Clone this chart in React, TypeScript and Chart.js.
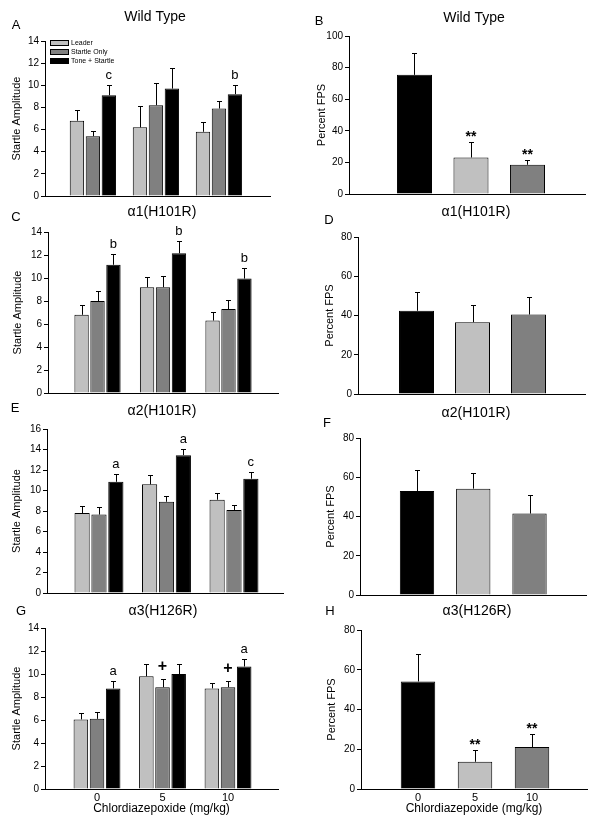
import React, { useEffect, useRef } from 'react';
import { Chart, registerables } from 'chart.js';

Chart.register(...registerables);

const FONT = '"Liberation Sans", Arial, Helvetica, sans-serif';
const LIGHT = '#c0c0c0';
const MID = '#808080';
const DARK = '#000000';

// categories
const doses = ['0', '5', '10'];
const groupNames = ['Leader', 'Startle Only', 'Tone + Startle'];

// Panel A — Wild Type startle amplitude (mean, SEM)
const wtLeader = [6.8, 6.2, 5.8];
const wtLeaderSem = [1.0, 1.9, 0.9];
const wtStartle = [5.4, 8.2, 7.9];
const wtStartleSem = [0.5, 2.0, 0.7];
const wtTone = [9.1, 9.7, 9.2];
const wtToneSem = [0.9, 1.9, 0.8];
// Panel B — Wild Type percent FPS
const wtFps = [75.4, 23.1, 18.5];
const wtFpsSem = [13.9, 10.1, 3.3];

// Panel C — α1(H101R)
const a1Leader = [6.8, 9.2, 6.3];
const a1LeaderSem = [0.85, 0.9, 0.75];
const a1Startle = [8.0, 9.2, 7.3];
const a1StartleSem = [0.9, 1.0, 0.8];
const a1Tone = [11.15, 12.15, 9.95];
const a1ToneSem = [0.95, 1.05, 0.95];
// Panel D
const a1Fps = [42.4, 36.6, 40.5];
const a1FpsSem = [9.6, 8.8, 8.7];

// Panel E — α2(H101R)
const a2Leader = [7.8, 10.6, 9.1];
const a2LeaderSem = [0.7, 0.9, 0.65];
const a2Startle = [7.65, 8.9, 8.1];
const a2StartleSem = [0.7, 0.6, 0.5];
const a2Tone = [10.85, 13.45, 11.15];
const a2ToneSem = [0.75, 0.6, 0.7];
// Panel F
const a2Fps = [53.0, 54.2, 41.5];
const a2FpsSem = [10.9, 8.2, 9.3];

// Panel G — α3(H126R)
const a3Leader = [6.05, 9.8, 8.75];
const a3LeaderSem = [0.55, 1.05, 0.5];
const a3Startle = [6.1, 8.85, 8.85];
const a3StartleSem = [0.6, 0.7, 0.5];
const a3Tone = [8.75, 10.0, 10.65];
const a3ToneSem = [0.6, 0.85, 0.65];
// Panel H
const a3Fps = [54.1, 13.7, 21.1];
const a3FpsSem = [13.7, 6.0, 6.7];

// significance marks: [dataset index, category index, text]
const marksA: [number, number, string][] = [[2, 0, 'c'], [2, 2, 'b']];
const marksB: [number, number, string][] = [[0, 1, '**'], [0, 2, '**']];
const marksC: [number, number, string][] = [[2, 0, 'b'], [2, 1, 'b'], [2, 2, 'b']];
const marksD: [number, number, string][] = [];
const marksE: [number, number, string][] = [[2, 0, 'a'], [2, 1, 'a'], [2, 2, 'c']];
const marksF: [number, number, string][] = [];
const marksG: [number, number, string][] = [[2, 0, 'a'], [1, 1, '+'], [1, 2, '+'], [2, 2, 'a']];
const marksH: [number, number, string][] = [[0, 1, '**'], [0, 2, '**']];

type DS = { label: string; values: number[]; sem: number[]; color: string | string[] };
type Panel = {
  key: string; left: number; top: number; width: number; height: number;
  padTop: number; padRight: number; padBottom: number; yWidth: number; xHeight: number;
  yMax: number; yStep: number; yTitle: string; yTitleSize: number; yTitlePad: number;
  xMin: number; xMax: number; showX: boolean; catPct: number; barPct: number;
  datasets: DS[]; marks: [number, number, string][];
  title: string; titleX: number; titleY: number; letter: string; letterX: number; letterY: number;
  legend: boolean;
};

const groupSets = (l: number[], ls: number[], s: number[], ss: number[], t: number[], ts: number[]): DS[] => [
  { label: groupNames[0], values: l, sem: ls, color: LIGHT },
  { label: groupNames[1], values: s, sem: ss, color: MID },
  { label: groupNames[2], values: t, sem: ts, color: DARK },
];
const fpsSet = (v: number[], s: number[]): DS[] => [
  { label: 'Percent FPS', values: v, sem: s, color: [DARK, LIGHT, MID] },
];

const panels: Panel[] = [
  {
    key: 'A', left: 0, top: 0, width: 300, height: 200, padTop: 41, padRight: 30, padBottom: 4, yWidth: 45, xHeight: 0,
    yMax: 14, yStep: 2, yTitle: 'Startle Amplitude', yTitleSize: 11, yTitlePad: 10.4, xMin: -0.76, xMax: 2.81, showX: false,
    catPct: 0.76, barPct: 0.9, datasets: groupSets(wtLeader, wtLeaderSem, wtStartle, wtStartleSem, wtTone, wtToneSem),
    marks: marksA, title: 'Wild Type', titleX: 155, titleY: 17, letter: 'A', letterX: 16, letterY: 25, legend: true,
  },
  {
    key: 'B', left: 300, top: 0, width: 301, height: 200, padTop: 36, padRight: 16, padBottom: 6, yWidth: 49, xHeight: 0,
    yMax: 100, yStep: 20, yTitle: 'Percent FPS', yTitleSize: 11, yTitlePad: 15.4, xMin: -1.159, xMax: 3.018, showX: false,
    catPct: 1, barPct: 0.62, datasets: fpsSet(wtFps, wtFpsSem),
    marks: marksB, title: 'Wild Type', titleX: 474, titleY: 18, letter: 'B', letterX: 319, letterY: 21, legend: false,
  },
  {
    key: 'C', left: 0, top: 200, width: 300, height: 200, padTop: 32, padRight: 22, padBottom: 7, yWidth: 48, xHeight: 0,
    yMax: 14, yStep: 2, yTitle: 'Startle Amplitude', yTitleSize: 11, yTitlePad: 11.4, xMin: -0.756, xMax: 2.756, showX: false,
    catPct: 0.73, barPct: 0.9, datasets: groupSets(a1Leader, a1LeaderSem, a1Startle, a1StartleSem, a1Tone, a1ToneSem),
    marks: marksC, title: 'α1(H101R)', titleX: 162, titleY: 212, letter: 'C', letterX: 16, letterY: 217, legend: false,
  },
  {
    key: 'D', left: 300, top: 200, width: 301, height: 200, padTop: 37, padRight: 16, padBottom: 6, yWidth: 58, xHeight: 0,
    yMax: 80, yStep: 20, yTitle: 'Percent FPS', yTitleSize: 11, yTitlePad: 23.4, xMin: -1.045, xMax: 3.009, showX: false,
    catPct: 1, barPct: 0.625, datasets: fpsSet(a1Fps, a1FpsSem),
    marks: marksD, title: 'α1(H101R)', titleX: 476, titleY: 212, letter: 'D', letterX: 329, letterY: 220, legend: false,
  },
  {
    key: 'E', left: 0, top: 400, width: 300, height: 200, padTop: 29, padRight: 17, padBottom: 7, yWidth: 47, xHeight: 0,
    yMax: 16, yStep: 2, yTitle: 'Startle Amplitude', yTitleSize: 11, yTitlePad: 10.4, xMin: -0.77, xMax: 2.726, showX: false,
    catPct: 0.75, barPct: 0.9, datasets: groupSets(a2Leader, a2LeaderSem, a2Startle, a2StartleSem, a2Tone, a2ToneSem),
    marks: marksE, title: 'α2(H101R)', titleX: 162, titleY: 411, letter: 'E', letterX: 15, letterY: 408, legend: false,
  },
  {
    key: 'F', left: 300, top: 400, width: 301, height: 200, padTop: 38, padRight: 15, padBottom: 5, yWidth: 60, xHeight: 0,
    yMax: 80, yStep: 20, yTitle: 'Percent FPS', yTitleSize: 11, yTitlePad: 24.4, xMin: -1.013, xMax: 3.004, showX: false,
    catPct: 1, barPct: 0.61, datasets: fpsSet(a2Fps, a2FpsSem),
    marks: marksF, title: 'α2(H101R)', titleX: 476, titleY: 413, letter: 'F', letterX: 327, letterY: 423, legend: false,
  },
  {
    key: 'G', left: 0, top: 600, width: 300, height: 228, padTop: 28, padRight: 22, padBottom: 3, yWidth: 45, xHeight: 36,
    yMax: 14, yStep: 2, yTitle: 'Startle Amplitude', yTitleSize: 11, yTitlePad: 10.4, xMin: -0.794, xMax: 2.763, showX: true,
    catPct: 0.74, barPct: 0.9, datasets: groupSets(a3Leader, a3LeaderSem, a3Startle, a3StartleSem, a3Tone, a3ToneSem),
    marks: marksG, title: 'α3(H126R)', titleX: 163, titleY: 611, letter: 'G', letterX: 21, letterY: 611, legend: false,
  },
  {
    key: 'H', left: 300, top: 600, width: 301, height: 228, padTop: 30, padRight: 14, padBottom: 3, yWidth: 61, xHeight: 36,
    yMax: 80, yStep: 20, yTitle: 'Percent FPS', yTitleSize: 11, yTitlePad: 25.4, xMin: -1.0, xMax: 2.965, showX: true,
    catPct: 1, barPct: 0.605, datasets: fpsSet(a3Fps, a3FpsSem),
    marks: marksH, title: 'α3(H126R)', titleX: 477, titleY: 611, letter: 'H', letterX: 330, letterY: 611, legend: false,
  },
];

function makeOverlay(p: Panel) {
  return {
    id: 'overlay' + p.key,
    afterDatasetsDraw(chart: any) {
      const ctx = chart.ctx as CanvasRenderingContext2D;
      const y = chart.scales.y;
      ctx.save();
      ctx.strokeStyle = '#000';
      ctx.lineWidth = 1;
      p.datasets.forEach((ds, di) => {
        const meta = chart.getDatasetMeta(di);
        ds.values.forEach((v, i) => {
          const bar = meta.data[i];
          const x = Math.round(bar.x) + 0.5;
          const top = y.getPixelForValue(v);
          const cap = Math.round(y.getPixelForValue(v + ds.sem[i])) + 0.5;
          ctx.beginPath();
          ctx.moveTo(x, top);
          ctx.lineTo(x, cap);
          ctx.moveTo(x - 2.5, cap);
          ctx.lineTo(x + 2.5, cap);
          ctx.stroke();
        });
      });
      ctx.fillStyle = '#000';
      ctx.textAlign = 'center';
      ctx.textBaseline = 'alphabetic';
      p.marks.forEach(([di, i, text]) => {
        const ds = p.datasets[di];
        const bar = chart.getDatasetMeta(di).data[i];
        const cap = y.getPixelForValue(ds.values[i] + ds.sem[i]);
        if (text === '**') {
          ctx.font = `bold 14px ${FONT}`;
          ctx.fillText(text, bar.x, cap - 1);
        } else if (text === '+') {
          ctx.font = `bold 16px ${FONT}`;
          ctx.fillText(text, bar.x, cap - 8);
        } else {
          ctx.font = `13px ${FONT}`;
          ctx.fillText(text, bar.x, cap - 6);
        }
      });
      ctx.restore();
    },
    afterDraw(chart: any) {
      const ctx = chart.ctx as CanvasRenderingContext2D;
      ctx.save();
      ctx.fillStyle = '#000';
      ctx.textBaseline = 'middle';
      ctx.textAlign = 'center';
      ctx.font = `14px ${FONT}`;
      ctx.fillText(p.title, p.titleX - p.left, p.titleY - p.top);
      ctx.font = `13px ${FONT}`;
      ctx.fillText(p.letter, p.letterX - p.left, p.letterY - p.top);
      if (p.legend) {
        const area = chart.chartArea;
        ctx.font = `7px ${FONT}`;
        ctx.textAlign = 'left';
        ctx.strokeStyle = '#000';
        ctx.lineWidth = 1;
        p.datasets.forEach((ds, i) => {
          const bx = Math.round(area.left) + 5;
          const by = Math.round(area.top) - 1 + i * 9;
          ctx.fillStyle = ds.color as string;
          ctx.fillRect(bx, by, 18, 5);
          ctx.strokeRect(bx + 0.5, by + 0.5, 18, 5);
          ctx.fillStyle = '#000';
          ctx.fillText(ds.label, bx + 21, by + 3);
        });
      }
      ctx.restore();
    },
  };
}

function PanelChart({ p }: { p: Panel }) {
  const ref = useRef<HTMLCanvasElement>(null);
  useEffect(() => {
    const chart = new Chart(ref.current as HTMLCanvasElement, {
      type: 'bar',
      data: {
        datasets: p.datasets.map((ds) => ({
          label: ds.label,
          data: ds.values.map((v, i) => ({ x: i, y: v })),
          backgroundColor: ds.color as any,
          borderColor: '#000',
          borderWidth: 1,
          categoryPercentage: p.catPct,
          barPercentage: p.barPct,
        })),
      },
      options: {
        responsive: false,
        animation: false,
        devicePixelRatio: 1,
        events: [],
        layout: { padding: { top: p.padTop, right: p.padRight, bottom: p.padBottom, left: 0 } },
        plugins: { legend: { display: false }, tooltip: { enabled: false }, title: { display: false } },
        scales: {
          x: {
            type: 'linear',
            min: p.xMin,
            max: p.xMax,
            bounds: 'data',
            offset: false,
            grid: { display: false, drawTicks: false },
            border: { display: true, color: '#000', width: 1 },
            ticks: {
              display: p.showX,
              font: { family: FONT, size: 11 },
              color: '#000',
              padding: 2,
              autoSkip: false,
              maxRotation: 0,
              callback: (v: any) => doses[v as number] ?? '',
            },
            title: {
              display: p.showX,
              text: 'Chlordiazepoxide (mg/kg)',
              font: { family: FONT, size: 12 },
              color: '#000',
              padding: { top: 0, bottom: 8.8 },
            },
            afterBuildTicks: (s: any) => {
              s.ticks = doses.map((_, i) => ({ value: i }));
            },
            afterFit: (s: any) => {
              s.height = p.xHeight;
              s.paddingLeft = 0;
              s.paddingRight = 0;
            },
          } as any,
          y: {
            min: 0,
            max: p.yMax,
            ticks: { stepSize: p.yStep, font: { family: FONT, size: 10 }, color: '#000', padding: 2 },
            grid: { display: true, drawOnChartArea: false, drawTicks: true, tickLength: 4, color: '#000' },
            border: { display: true, color: '#000', width: 1 },
            title: {
              display: true,
              text: p.yTitle,
              font: { family: FONT, size: p.yTitleSize },
              color: '#000',
              padding: { top: p.yTitlePad, bottom: 0 },
            },
            afterFit: (s: any) => {
              s.width = p.yWidth;
              s.paddingTop = 0;
              s.paddingBottom = 0;
            },
          } as any,
        },
      },
      plugins: [makeOverlay(p)],
    });
    return () => chart.destroy();
  }, [p]);
  return (
    <canvas
      ref={ref}
      width={p.width}
      height={p.height}
      style={{ position: 'absolute', left: p.left, top: p.top, width: p.width, height: p.height }}
    />
  );
}

export default function App() {
  return (
    <div style={{ position: 'absolute', left: 0, top: 0, width: 601, height: 828, background: '#fff' }}>
      {panels.map((p) => (
        <PanelChart key={p.key} p={p} />
      ))}
    </div>
  );
}
